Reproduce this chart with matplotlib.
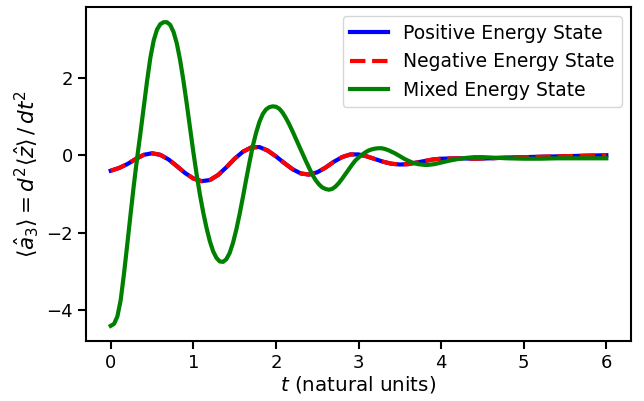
import matplotlib
matplotlib.use("Agg")
import matplotlib.pyplot as plt
from matplotlib.ticker import MultipleLocator

# --- time axis and expectation values ---
t_pure = [0.00, 0.10, 0.20, 0.30, 0.40, 0.50, 0.60, 0.70, 0.80, 0.90,
          1.00, 1.10, 1.20, 1.30, 1.40, 1.50, 1.60, 1.70, 1.80, 1.90,
          2.00, 2.10, 2.20, 2.30, 2.40, 2.50, 2.60, 2.70, 2.80, 2.90,
          3.00, 3.10, 3.20, 3.30, 3.40, 3.50, 3.60, 3.70, 3.80, 3.90,
          4.00, 4.20, 4.40, 4.60, 4.80, 5.00, 5.20, 5.40, 5.60, 5.80, 6.00]
pos_energy = [-0.40, -0.33, -0.23, -0.10, 0.01, 0.05, 0.01, -0.11, -0.28, -0.46,
              -0.60, -0.67, -0.64, -0.51, -0.31, -0.09, 0.09, 0.20, 0.21, 0.12,
              -0.03, -0.20, -0.36, -0.47, -0.50, -0.44, -0.32, -0.17, -0.05, 0.02,
              0.02, -0.03, -0.10, -0.17, -0.22, -0.24, -0.23, -0.19, -0.15, -0.11,
              -0.09, -0.08, -0.09, -0.08, -0.06, -0.05, -0.04, -0.03, -0.02, -0.01, 0.00]
# negative energy state lies on top of the positive one
neg_energy = [-0.40, -0.33, -0.23, -0.10, 0.01, 0.05, 0.01, -0.11, -0.28, -0.46,
              -0.60, -0.67, -0.64, -0.51, -0.31, -0.09, 0.09, 0.20, 0.21, 0.12,
              -0.03, -0.20, -0.36, -0.47, -0.50, -0.44, -0.32, -0.17, -0.05, 0.02,
              0.02, -0.03, -0.10, -0.17, -0.22, -0.24, -0.23, -0.19, -0.15, -0.11,
              -0.09, -0.08, -0.09, -0.08, -0.06, -0.05, -0.04, -0.03, -0.02, -0.01, 0.00]

t_mixed = [0.00, 0.04, 0.08, 0.12, 0.16, 0.20, 0.24, 0.28, 0.32, 0.36,
           0.40, 0.44, 0.48, 0.52, 0.56, 0.60, 0.64, 0.68, 0.72, 0.76,
           0.80, 0.84, 0.88, 0.92, 0.96, 1.00, 1.04, 1.08, 1.12, 1.16,
           1.20, 1.24, 1.28, 1.32, 1.36, 1.40, 1.44, 1.48, 1.52, 1.56,
           1.60, 1.64, 1.68, 1.72, 1.76, 1.80, 1.84, 1.88, 1.92, 1.96,
           2.00, 2.04, 2.08, 2.12, 2.16, 2.20, 2.24, 2.28, 2.32, 2.36,
           2.40, 2.44, 2.48, 2.52, 2.56, 2.60, 2.64, 2.68, 2.72, 2.76,
           2.80, 2.84, 2.88, 2.92, 2.96, 3.00, 3.04, 3.08, 3.12, 3.16,
           3.20, 3.24, 3.28, 3.32, 3.36, 3.40, 3.44, 3.48, 3.52, 3.56,
           3.60, 3.64, 3.68, 3.72, 3.76, 3.80, 3.84, 3.88, 3.92, 3.96,
           4.00, 4.10, 4.20, 4.30, 4.40, 4.50, 4.60, 4.70, 4.80, 5.00,
           5.20, 5.40, 5.60, 5.80, 6.00]
mixed_energy = [-4.40, -4.35, -4.16, -3.74, -3.06, -2.30, -1.52, -0.76, -0.06, 0.58,
                1.25, 1.92, 2.52, 2.96, 3.24, 3.38, 3.43, 3.43, 3.36, 3.18,
                2.88, 2.45, 1.92, 1.33, 0.70, 0.08, -0.50, -1.02, -1.48, -1.88,
                -2.22, -2.48, -2.65, -2.74, -2.75, -2.68, -2.52, -2.26, -1.92, -1.52,
                -1.08, -0.62, -0.18, 0.24, 0.58, 0.86, 1.06, 1.18, 1.24, 1.26,
                1.25, 1.20, 1.10, 0.96, 0.80, 0.62, 0.43, 0.24, 0.05, -0.14,
                -0.32, -0.50, -0.64, -0.75, -0.83, -0.87, -0.89, -0.87, -0.81, -0.72,
                -0.61, -0.49, -0.37, -0.25, -0.14, -0.06, 0.01, 0.07, 0.12, 0.15,
                0.17, 0.18, 0.18, 0.16, 0.13, 0.09, 0.05, 0.00, -0.05, -0.10,
                -0.14, -0.18, -0.21, -0.23, -0.24, -0.25, -0.25, -0.24, -0.23, -0.21,
                -0.19, -0.14, -0.10, -0.07, -0.05, -0.05, -0.06, -0.07, -0.08, -0.09,
                -0.09, -0.08, -0.08, -0.08, -0.08]

plt.rcParams['font.size'] = 13.5
plt.rcParams['axes.linewidth'] = 1.5

fig, ax = plt.subplots(figsize=(6.44, 4.01), dpi=100)
fig.subplots_adjust(left=0.1335, right=0.98, top=0.9825, bottom=0.1496)

ax.plot(t_pure, pos_energy, color='blue', lw=3, label='Positive Energy State')
ax.plot(t_pure, neg_energy, color='red', lw=3, ls='--', label='Negative Energy State')
ax.plot(t_mixed, mixed_energy, color='green', lw=3, label='Mixed Energy State')

ax.yaxis.set_major_locator(MultipleLocator(2))
ax.set_xlabel(r'$t$ (natural units)', fontsize=14.3, labelpad=1)
ax.set_ylabel(r'$\langle \hat{a}_3 \rangle = d^2 \langle \hat{z} \rangle \, / \, dt^2$',
              fontsize=15.5, labelpad=4)
ax.tick_params(labelsize=13, length=6, width=1.5)
ax.legend(loc='upper right', fontsize=13.5)

plt.savefig('out.png', dpi=100)
